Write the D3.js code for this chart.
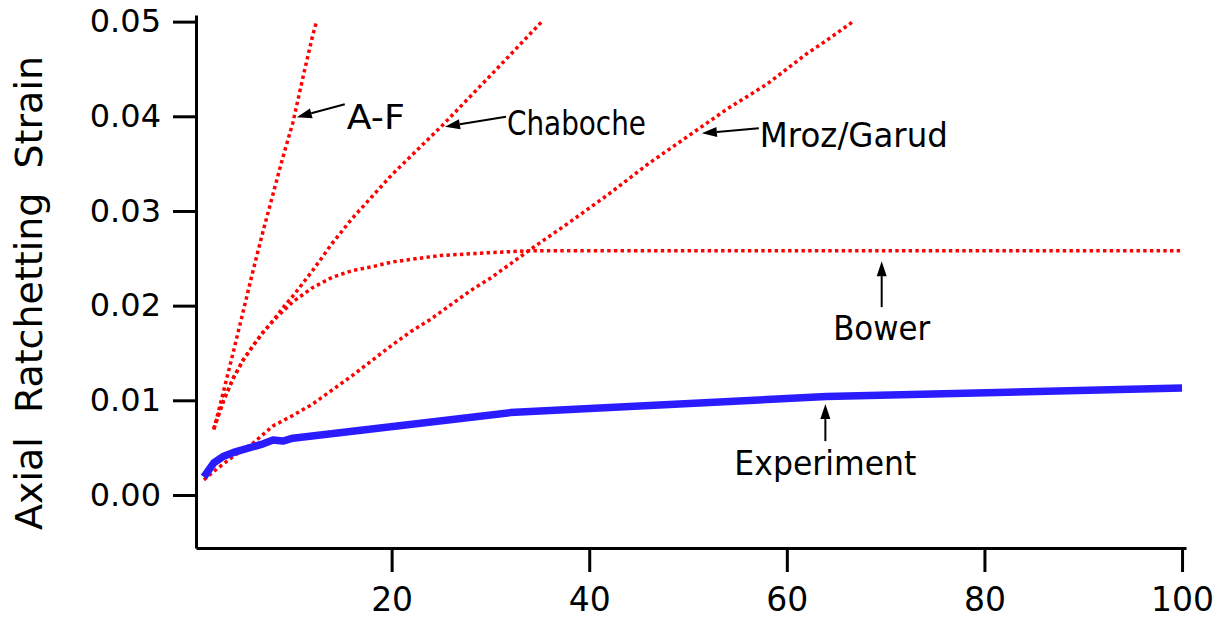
<!DOCTYPE html>
<html>
<head>
<meta charset="utf-8">
<script src="https://cdn.jsdelivr.net/npm/d3@7"></script>
<style>
  html, body { margin: 0; padding: 0; background: #fff; }
  svg { display: block; }
  text { font-family: "DejaVu Sans", Verdana, sans-serif; fill: #000; }
</style>
</head>
<body>
<svg id="chart" width="1220" height="621"></svg>
<script>
// ---- data ----
const xTicks = [20, 40, 60, 80, 100];
const yTicks = [0.00, 0.01, 0.02, 0.03, 0.04, 0.05];

const expN   = [1, 2, 3, 4, 7, 8, 9, 10, 32, 64, 100];
const expV   = [0.0019, 0.0034, 0.0041, 0.0045, 0.0054, 0.0058, 0.0057, 0.0060, 0.0087, 0.0104, 0.0113];

const afN    = [2, 3, 4, 5, 6, 7, 8, 9, 10, 11, 12, 12.4];
const afV    = [0.0069, 0.0110, 0.0152, 0.0195, 0.0238, 0.0279, 0.0318, 0.0357, 0.0393, 0.0440, 0.0485, 0.0500];

const chabN  = [2, 3, 4, 5, 6, 7, 8, 9, 10, 12, 14, 16, 18, 20, 25, 30, 35.2];
const chabV  = [0.0070, 0.0100, 0.0124, 0.0143, 0.0158, 0.0172, 0.0184, 0.0198, 0.0210, 0.0237, 0.0266, 0.0292, 0.0315, 0.0338, 0.0389, 0.0443, 0.0500];

const bowN   = [2, 3, 4, 5, 6, 7, 8, 10, 12, 14, 16, 18, 20, 22, 25, 30, 34, 100];
const bowV   = [0.0070, 0.0100, 0.0124, 0.0143, 0.0158, 0.0172, 0.0184, 0.0204, 0.0219, 0.0230, 0.0237, 0.0241, 0.0246, 0.0249, 0.0253, 0.0256, 0.0258, 0.0258];

const mrozN  = [1, 2, 4, 6, 8, 10, 12, 14, 16, 18, 20, 22, 24, 26, 28, 30, 34, 38, 42, 46, 50, 54, 58, 62, 64, 66.7];
const mrozV  = [0.0016, 0.0025, 0.0041, 0.0055, 0.0073, 0.0084, 0.0096, 0.0111, 0.0126, 0.0142, 0.0158, 0.0173, 0.0186, 0.0201, 0.0216, 0.0229, 0.0259, 0.0288, 0.0318, 0.0350, 0.0379, 0.0408, 0.0434, 0.0466, 0.0480, 0.0500];

const annLabels = ["A-F", "Chaboche", "Mroz/Garud", "Bower", "Experiment"];
const annTipN   = [10.4, 25.4, 51.4, 69.6, 63.9];
const annTipV   = [0.0399, 0.0389, 0.0382, 0.0247, 0.0096];

// ---- layout ----
const svg = d3.select("#chart");
const x = d3.scaleLinear().domain([0.2, 100.4]).range([196, 1186]);
const y = d3.scaleLinear().domain([-0.0056, 0.0507]).range([548, 15]);

// axes
const yAxis = d3.axisLeft(y).tickValues(yTicks).tickFormat(d3.format(".2f"))
  .tickSize(23).tickSizeOuter(0).tickPadding(12);
const gy = svg.append("g").attr("transform", "translate(196,0)").call(yAxis);

const xAxis = d3.axisBottom(x).tickValues(xTicks).tickFormat(d3.format("d"))
  .tickSize(24).tickSizeOuter(0).tickPadding(16);
const gx = svg.append("g").attr("transform", "translate(0,548)").call(xAxis);

[gx, gy].forEach(g => {
  g.select(".domain").attr("stroke", "#000").attr("stroke-width", 3);
  g.selectAll(".tick line").attr("stroke", "#000").attr("stroke-width", 3);
  g.selectAll(".tick text").style("font-family", '"DejaVu Sans", Verdana, sans-serif').attr("fill", "#000");
});
gy.selectAll(".tick text").style("font-size", "32px");
gx.selectAll(".tick text").style("font-size", "33px");

// y label
svg.append("text")
  .attr("transform", "translate(42,293) rotate(-90)")
  .attr("text-anchor", "middle")
  .style("font-size", "37px")
  .style("white-space", "pre")
  .attr("textLength", 474)
  .attr("lengthAdjust", "spacingAndGlyphs")
  .text("Axial  Ratchetting  Strain");

// lines
const line = d3.line().x(d => x(d[0])).y(d => y(d[1]));
const zip = (a, b) => a.map((v, i) => [v, b[i]]);

const redSeries = [zip(afN, afV), zip(chabN, chabV), zip(bowN, bowV), zip(mrozN, mrozV)];
svg.append("g").selectAll("path").data(redSeries).join("path")
  .attr("d", line)
  .attr("fill", "none")
  .attr("stroke", "#ff0000")
  .attr("stroke-width", 3.5)
  .attr("stroke-dasharray", "3.4,3.3");

svg.append("path")
  .datum(zip(expN, expV))
  .attr("d", line)
  .attr("fill", "none")
  .attr("stroke", "#2b1cff")
  .attr("stroke-width", 7.5)
  .attr("stroke-linejoin", "round");

// annotations: tail offsets / text offsets are layout (pixels)
const tailDX = [48, 61, 57, 0, 0];
const tailDY = [-13, -10, -5, 46, 37];
const textDX = [50, 62, 58, 0, 0];
const textDY = [12, 8, 14, 79, 71];
const anchors = ["start", "start", "start", "middle", "middle"];
const widths = [58, 139, 188, 97, 182];

const ann = svg.append("g");
annLabels.forEach((lab, i) => {
  const tx = x(annTipN[i]), ty = y(annTipV[i]);
  const sx = tx + tailDX[i], sy = ty + tailDY[i];
  const ang = Math.atan2(ty - sy, tx - sx);
  const hl = 15, hw = 5;
  const bx = tx - hl * Math.cos(ang), by = ty - hl * Math.sin(ang);
  ann.append("line").attr("x1", sx).attr("y1", sy).attr("x2", bx).attr("y2", by)
    .attr("stroke", "#000").attr("stroke-width", 2);
  const px = -Math.sin(ang) * hw, py = Math.cos(ang) * hw;
  ann.append("polygon")
    .attr("points", [[tx, ty], [bx + px, by + py], [bx - px, by - py]].map(p => p.join(",")).join(" "))
    .attr("fill", "#000");
  ann.append("text")
    .attr("x", tx + textDX[i]).attr("y", ty + textDY[i])
    .attr("text-anchor", anchors[i])
    .style("font-size", "33px")
    .attr("textLength", widths[i])
    .attr("lengthAdjust", "spacingAndGlyphs")
    .text(lab);
});
</script>
</body>
</html>
